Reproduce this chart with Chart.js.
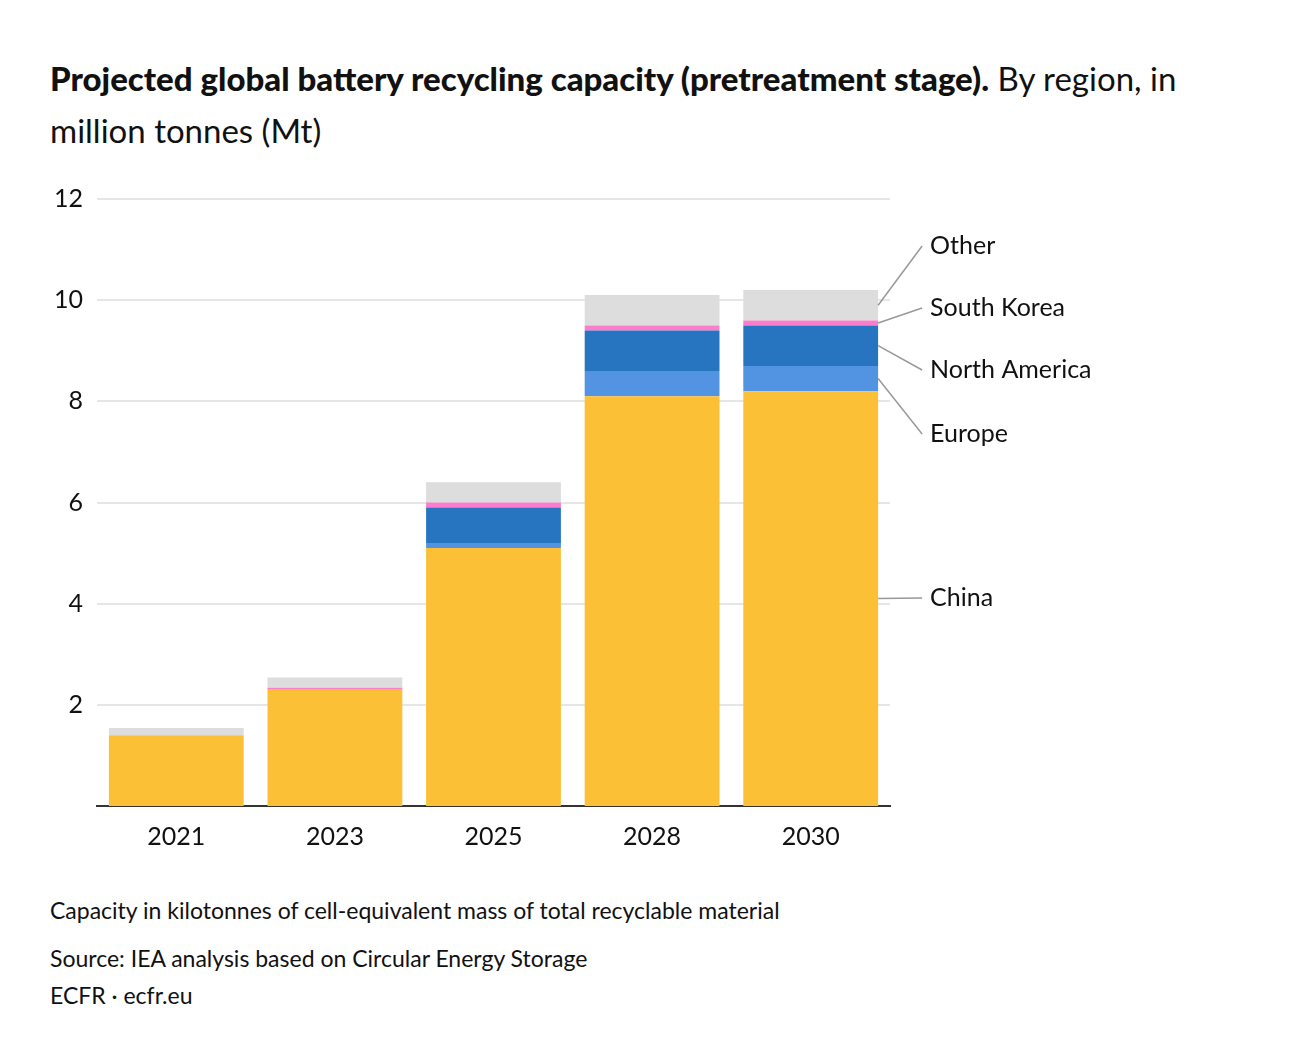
<!DOCTYPE html>
<html>
<head>
<meta charset="utf-8">
<script src="https://cdn.jsdelivr.net/npm/chart.js@4/dist/chart.umd.min.js"></script>
<style>
  body { margin: 0; background: #fff; font-family: Lato, "Noto Sans", sans-serif; color: #111; }
  .title { position: absolute; left: 50px; top: 52px; width: 1200px; font-size: 33px; line-height: 52px; }
  .title b { font-weight: 900; }
  .wrap { position: absolute; left: 0; top: 170px; width: 1300px; height: 690px; }
  .note { position: absolute; left: 50px; font-size: 23px; color: #111; }
</style>
</head>
<body>
<div class="title"><b>Projected global battery recycling capacity (pretreatment stage).</b> By region, in million tonnes (Mt)</div>
<div class="wrap"><canvas id="c"></canvas></div>
<div class="note" style="top:896px">Capacity in kilotonnes of cell-equivalent mass of total recyclable material</div>
<div class="note" style="top:944px">Source: IEA analysis based on Circular Energy Storage</div>
<div class="note" style="top:981px">ECFR · ecfr.eu</div>
<script>
const years = ['2021', '2023', '2025', '2028', '2030'];
const china = [1.4, 2.3, 5.1, 8.1, 8.2];
const europe = [0, 0, 0.1, 0.5, 0.5];
const northAmerica = [0, 0, 0.7, 0.8, 0.8];
const southKorea = [0, 0.04, 0.1, 0.1, 0.1];
const other = [0.14, 0.2, 0.4, 0.6, 0.6];
const yTicks = [2, 4, 6, 8, 10, 12];

const series = [
  { label: 'China', data: china, color: '#fbc036', labelY: 598 },
  { label: 'Europe', data: europe, color: '#5294e2', labelY: 434 },
  { label: 'North America', data: northAmerica, color: '#2775c0', labelY: 370 },
  { label: 'South Korea', data: southKorea, color: '#fb7dcc', labelY: 308 },
  { label: 'Other', data: other, color: '#dddddd', labelY: 246 },
];

const labelPlugin = {
  id: 'sideLabels',
  afterDatasetsDraw(chart) {
    const ctx = chart.ctx;
    const last = years.length - 1;
    const top = 170;
    ctx.save();
    ctx.font = '25px Lato, "Noto Sans", sans-serif';
    ctx.textBaseline = 'middle';
    ctx.fillStyle = '#111';
    ctx.strokeStyle = '#999';
    ctx.lineWidth = 1.5;
    chart.data.datasets.forEach((ds, i) => {
      const bar = chart.getDatasetMeta(i).data[last];
      const startY = (bar.y + bar.base) / 2;
      const x0 = bar.x + bar.width / 2;
      const ty = series[i].labelY - top;
      ctx.beginPath();
      ctx.moveTo(x0, startY);
      ctx.lineTo(x0 + 44, ty);
      ctx.stroke();
      ctx.fillText(series[i].label, x0 + 52, ty);
    });
    ctx.restore();
  },
};

new Chart(document.getElementById('c'), {
  type: 'bar',
  data: {
    labels: years,
    datasets: series.map(s => ({
      label: s.label,
      data: s.data,
      backgroundColor: s.color,
      barPercentage: 0.85,
      categoryPercentage: 1,
    })),
  },
  options: {
    responsive: true,
    maintainAspectRatio: false,
    animation: false,
    layout: { padding: { left: 40, right: 410, top: 22, bottom: 0 } },
    plugins: { legend: { display: false }, tooltip: { enabled: false } },
    scales: {
      x: {
        stacked: true,
        grid: { display: false },
        border: { color: '#333', width: 2 },
        ticks: { color: '#111', font: { size: 25, family: 'Lato' }, padding: 8 },
      },
      y: {
        stacked: true,
        min: 0,
        max: 12,
        afterBuildTicks: axis => { axis.ticks = yTicks.map(v => ({ value: v })); },
        grid: { color: '#e6e6e6', lineWidth: 2, drawTicks: false },
        border: { display: false },
        ticks: { color: '#111', font: { size: 25, family: 'Lato' }, padding: 14 },
      },
    },
  },
  plugins: [labelPlugin],
});
</script>
</body>
</html>
